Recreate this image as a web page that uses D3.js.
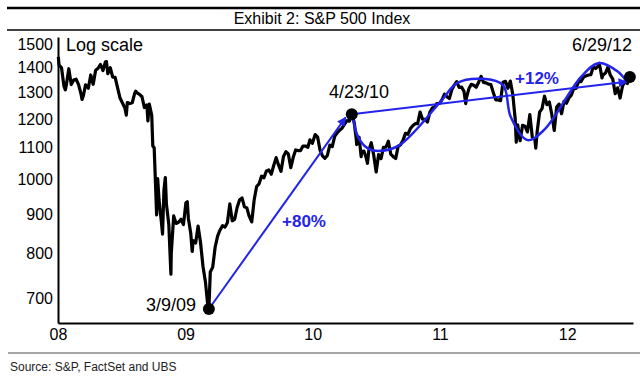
<!DOCTYPE html>
<html>
<head>
<meta charset="utf-8">
<script src="https://cdn.jsdelivr.net/npm/d3@7"></script>
<style>
  body { margin: 0; background: #fff; }
  svg { display: block; font-family: "Liberation Sans", Arial, sans-serif; }
</style>
</head>
<body>
<svg id="chart" width="640" height="377"></svg>
<script>
// S&P 500 closes, roughly weekly plus a few swing days
var px_dates = [
  '2008-01-02','2008-01-04','2008-01-11','2008-01-18','2008-01-22','2008-01-25','2008-02-01','2008-02-08','2008-02-15','2008-02-22','2008-02-29',
  '2008-03-07','2008-03-10','2008-03-14','2008-03-20','2008-03-28','2008-04-04','2008-04-11','2008-04-18','2008-04-25','2008-05-02','2008-05-09',
  '2008-05-16','2008-05-19','2008-05-23','2008-05-30','2008-06-06','2008-06-13','2008-06-20','2008-06-27','2008-07-03','2008-07-11','2008-07-15',
  '2008-07-18','2008-07-25','2008-08-01','2008-08-08','2008-08-11','2008-08-15','2008-08-22','2008-08-29','2008-09-05','2008-09-12','2008-09-15',
  '2008-09-19','2008-09-26','2008-09-29','2008-10-03','2008-10-10','2008-10-13','2008-10-17','2008-10-24','2008-10-27','2008-10-31','2008-11-04',
  '2008-11-07','2008-11-14','2008-11-20','2008-11-21','2008-11-28','2008-12-05','2008-12-12','2008-12-19','2008-12-26',
  '2009-01-02','2009-01-06','2009-01-09','2009-01-16','2009-01-20','2009-01-23','2009-01-30','2009-02-06','2009-02-13','2009-02-20','2009-02-27',
  '2009-03-06','2009-03-09','2009-03-13','2009-03-20','2009-03-27','2009-04-03','2009-04-09','2009-04-17','2009-04-24','2009-05-01','2009-05-08',
  '2009-05-15','2009-05-22','2009-05-29','2009-06-05','2009-06-12','2009-06-19','2009-06-26','2009-07-02','2009-07-10','2009-07-17','2009-07-24',
  '2009-07-31','2009-08-07','2009-08-14','2009-08-21','2009-08-28','2009-09-04','2009-09-11','2009-09-18','2009-09-25','2009-10-02','2009-10-09',
  '2009-10-16','2009-10-23','2009-10-30','2009-11-06','2009-11-13','2009-11-20','2009-11-27','2009-12-04','2009-12-11','2009-12-18','2009-12-24',
  '2009-12-31',
  '2010-01-08','2010-01-15','2010-01-22','2010-01-29','2010-02-05','2010-02-12','2010-02-19','2010-02-26','2010-03-05','2010-03-12','2010-03-19',
  '2010-03-26','2010-04-01','2010-04-09','2010-04-16','2010-04-23','2010-04-30','2010-05-06','2010-05-07','2010-05-14','2010-05-20','2010-05-21',
  '2010-05-28','2010-06-04','2010-06-07','2010-06-11','2010-06-18','2010-06-25','2010-07-02','2010-07-09','2010-07-16','2010-07-23','2010-07-30',
  '2010-08-06','2010-08-13','2010-08-20','2010-08-27','2010-09-03','2010-09-10','2010-09-17','2010-09-24','2010-10-01','2010-10-08','2010-10-15',
  '2010-10-22','2010-10-29','2010-11-05','2010-11-12','2010-11-19','2010-11-26','2010-12-03','2010-12-10','2010-12-17','2010-12-23','2010-12-31',
  '2011-01-07','2011-01-14','2011-01-21','2011-01-28','2011-02-04','2011-02-11','2011-02-18','2011-02-25','2011-03-04','2011-03-11','2011-03-16',
  '2011-03-18','2011-03-25','2011-04-01','2011-04-08','2011-04-15','2011-04-21','2011-04-29','2011-05-06','2011-05-13','2011-05-20','2011-05-27',
  '2011-06-03','2011-06-10','2011-06-17','2011-06-24','2011-07-01','2011-07-08','2011-07-15','2011-07-22','2011-07-29','2011-08-05','2011-08-08',
  '2011-08-12','2011-08-19','2011-08-26','2011-09-02','2011-09-09','2011-09-16','2011-09-23','2011-09-30','2011-10-03','2011-10-07','2011-10-14',
  '2011-10-21','2011-10-28','2011-11-04','2011-11-11','2011-11-18','2011-11-25','2011-12-02','2011-12-09','2011-12-16','2011-12-23','2011-12-30',
  '2012-01-06','2012-01-13','2012-01-20','2012-01-27','2012-02-03','2012-02-10','2012-02-17','2012-02-24','2012-03-02','2012-03-09','2012-03-16',
  '2012-03-23','2012-03-30','2012-04-02','2012-04-05','2012-04-10','2012-04-13','2012-04-20','2012-04-27','2012-05-04','2012-05-11','2012-05-18',
  '2012-05-25','2012-06-01','2012-06-08','2012-06-15','2012-06-22','2012-06-29'
];
var px_values = [
  1447,1411,1401,1325,1310,1330,1396,1331,1349,1353,1331,
  1294,1273,1288,1330,1316,1370,1332,1390,1398,1414,1388,
  1425,1426,1375,1400,1361,1360,1318,1278,1262,1240,1214,
  1261,1257,1260,1296,1305,1298,1292,1283,1242,1252,1193,
  1255,1213,1106,1100,899,1003,940,877,848,968,1006,
  930,873,752,800,896,876,879,887,873,
  932,935,890,850,805,832,826,869,827,770,735,
  683,677,757,768,816,843,857,870,866,878,929,
  883,887,919,940,946,921,918,897,880,941,979,
  987,1010,1005,1026,1029,1016,1043,1068,1044,1025,1072,
  1087,1080,1036,1069,1093,1091,1091,1106,1106,1102,1127,
  1115,
  1145,1136,1092,1074,1066,1075,1109,1104,1139,1150,1160,
  1167,1179,1194,1192,1217,1187,1128,1111,1136,1071,1088,
  1089,1065,1050,1092,1117,1076,1023,1078,1065,1102,1102,
  1122,1079,1071,1065,1105,1110,1125,1149,1146,1165,1176,
  1183,1183,1225,1199,1199,1189,1224,1240,1244,1257,1258,
  1272,1293,1283,1276,1310,1329,1343,1320,1321,1304,1257,
  1279,1314,1332,1328,1320,1337,1364,1340,1338,1333,1331,
  1300,1271,1271,1268,1340,1344,1316,1345,1292,1199,1119,
  1179,1124,1177,1174,1154,1216,1136,1131,1099,1155,1225,
  1238,1285,1253,1263,1216,1159,1244,1255,1219,1265,1258,
  1278,1289,1315,1316,1345,1343,1361,1366,1370,1371,1404,
  1397,1408,1419,1398,1358,1370,1378,1403,1369,1353,1295,
  1318,1278,1325,1343,1335,1362
];

var y_ticks = [700, 800, 900, 1000, 1100, 1200, 1300, 1400, 1500];
var x_ticks = ['2008-01-01', '2009-01-01', '2010-01-01', '2011-01-01', '2012-01-01'];
var x_tick_labels = ['08', '09', '10', '11', '12'];

// marked points
var dot_dates = ['2009-03-09', '2010-04-23', '2012-06-29'];
var dot_values = [677, 1217, 1362];
var dot_labels = ['3/9/09', '4/23/10', '6/29/12'];

// straight arrows: start -> end
var arrow_from_dates = ['2009-03-09', '2010-04-23'];
var arrow_from_values = [677, 1217];
var arrow_to_dates = ['2010-04-05', '2012-06-20'];
var arrow_to_values = [1205, 1342];
var arrow_labels = ['+80%', '+12%'];

// hand drawn trend wave
var wave_dates = ['2010-04-26','2010-05-11','2010-06-06','2010-07-13','2010-09-08','2011-01-02','2011-02-20',
                  '2011-05-05','2011-07-01','2011-07-23','2011-09-09','2011-10-27','2012-02-10','2012-04-01',
                  '2012-05-26','2012-06-20'];
var wave_values = [1208,1137,1100,1090,1110,1263,1338,1354,1329,1208,1126,1161,1362,1420,1383,1342];

var parse = d3.timeParse('%Y-%m-%d');
var blue = '#2323ee';

var svg = d3.select('#chart');

var x = d3.scaleTime()
    .domain([parse('2008-01-01'), parse('2012-07-08')])
    .range([58, 633]);

var y = d3.scaleLog()
    .domain([649, 1536])
    .range([323, 37]);

// header rules and title
svg.append('line').attr('x1', 7).attr('x2', 640).attr('y1', 8).attr('y2', 8)
    .attr('stroke', '#000').attr('stroke-width', 2.5);
svg.append('line').attr('x1', 7).attr('x2', 640).attr('y1', 30).attr('y2', 30)
    .attr('stroke', '#000').attr('stroke-width', 1.5);
svg.append('text')
    .attr('x', 322).attr('y', 24)
    .attr('text-anchor', 'middle')
    .style('font-family', '"Liberation Sans Narrow", "Arial Narrow", sans-serif')
    .style('font-size', '16px')
    .text('Exhibit 2: S&P 500 Index');

// axes
var yAxis = d3.axisLeft(y).tickValues(y_ticks).tickSize(0).tickPadding(5).tickFormat(d3.format('d'));
var gy = svg.append('g').attr('transform', 'translate(58,0)').call(yAxis);
gy.selectAll('text').style('font-size', '16px').style('font-family', '"Liberation Sans", Arial, sans-serif').attr('fill', '#000');
gy.select('.domain').attr('stroke', '#000').attr('stroke-width', 2);

var xAxis = d3.axisBottom(x)
    .tickValues(x_ticks.map(parse))
    .tickSize(0).tickPadding(6)
    .tickFormat(function(d, i) { return x_tick_labels[i]; });
var gx = svg.append('g').attr('transform', 'translate(0,323)').call(xAxis);
gx.selectAll('text').style('font-size', '16px').style('font-family', '"Liberation Sans", Arial, sans-serif').attr('fill', '#000');
gx.select('.domain').attr('stroke', '#000').attr('stroke-width', 2);

// price line
var series = px_dates.map(function(d, i) { return {date: parse(d), value: px_values[i]}; });
var line = d3.line()
    .x(function(d) { return x(d.date); })
    .y(function(d) { return y(d.value); });

svg.append('path')
    .datum(series)
    .attr('fill', 'none')
    .attr('stroke', '#000')
    .attr('stroke-width', 3.2)
    .attr('stroke-linejoin', 'round')
    .attr('d', line);

// arrowhead marker
svg.append('defs').append('marker')
    .attr('id', 'head')
    .attr('viewBox', '0 0 10 10')
    .attr('refX', 9).attr('refY', 5)
    .attr('markerWidth', 11).attr('markerHeight', 9)
    .attr('markerUnits', 'userSpaceOnUse')
    .attr('orient', 'auto')
  .append('path')
    .attr('d', 'M0,0 L10,5 L0,10 Z')
    .attr('fill', blue);

var wave = wave_dates.map(function(d, i) { return {date: parse(d), value: wave_values[i]}; });
svg.append('path')
    .datum(wave)
    .attr('fill', 'none')
    .attr('stroke', blue)
    .attr('stroke-width', 2.5)
    .attr('d', line.curve(d3.curveCatmullRom.alpha(0.5)));

arrow_from_dates.forEach(function(d, i) {
    svg.append('line')
        .attr('x1', x(parse(d))).attr('y1', y(arrow_from_values[i]))
        .attr('x2', x(parse(arrow_to_dates[i]))).attr('y2', y(arrow_to_values[i]))
        .attr('stroke', blue)
        .attr('stroke-width', 2)
        .attr('marker-end', 'url(#head)');
});

// percentage labels
svg.append('text').attr('x', 282).attr('y', 227)
    .attr('fill', blue).style('font-weight', 'bold').style('font-size', '17px')
    .text(arrow_labels[0]);
svg.append('text').attr('x', 515).attr('y', 84)
    .attr('fill', blue).style('font-weight', 'bold').style('font-size', '17px')
    .text(arrow_labels[1]);

// dots and date labels
svg.selectAll('circle.mark')
    .data(dot_dates)
    .enter()
    .append('circle')
    .attr('class', 'mark')
    .attr('cx', function(d) { return x(parse(d)); })
    .attr('cy', function(d, i) { return y(dot_values[i]); })
    .attr('r', 6)
    .attr('fill', '#000');

var label_pos = [[196, 311, 'end'], [359, 98, 'middle'], [632, 51, 'end']];
dot_labels.forEach(function(t, i) {
    svg.append('text')
        .attr('x', label_pos[i][0]).attr('y', label_pos[i][1])
        .attr('text-anchor', label_pos[i][2])
        .style('font-size', '18px')
        .text(t);
});

svg.append('text').attr('x', 66).attr('y', 51)
    .style('font-size', '18px')
    .text('Log scale');

// footer
svg.append('line').attr('x1', 8).attr('x2', 640).attr('y1', 353).attr('y2', 353)
    .attr('stroke', '#888').attr('stroke-width', 1.5);
svg.append('text').attr('x', 10).attr('y', 371)
    .style('font-family', '"Liberation Sans Narrow", "Arial Narrow", sans-serif')
    .style('font-size', '12px')
    .attr('fill', '#222')
    .text('Source: S&P, FactSet and UBS');
</script>
</body>
</html>
